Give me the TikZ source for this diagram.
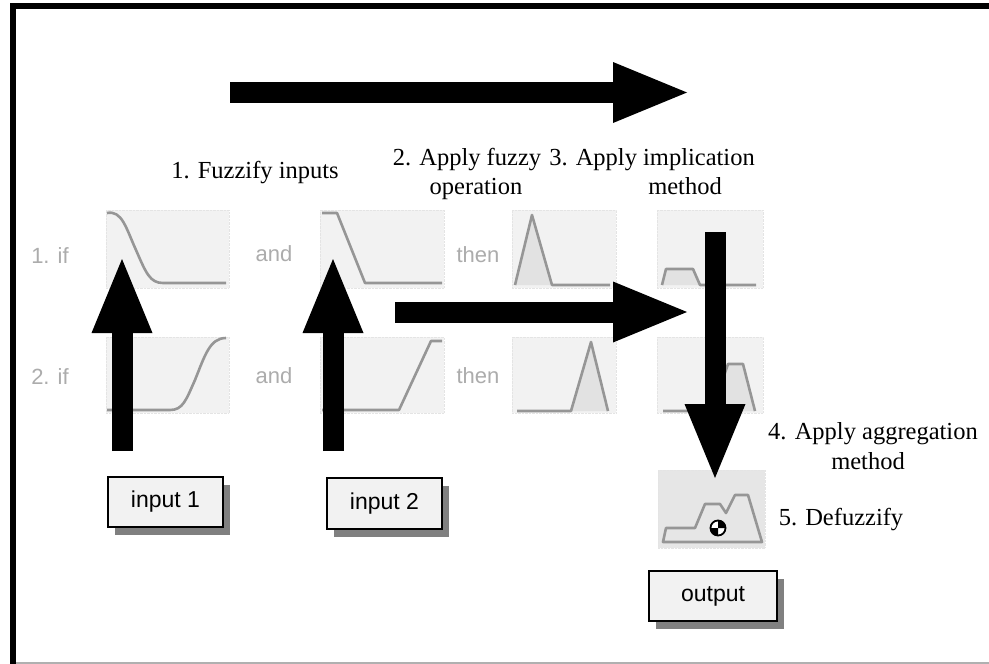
\documentclass[tikz,border=0pt]{standalone}
\usepackage{fontspec}
\setmainfont{Liberation Serif}
\newfontfamily\labelsans{Liberation Sans}
\usetikzlibrary{arrows.meta,shadows}
\definecolor{plotbg}{RGB}{242,242,242}
\definecolor{plotedge}{RGB}{228,228,228}
\definecolor{aggbg}{RGB}{230,230,230}
\definecolor{curve}{RGB}{150,150,150}
\definecolor{curvefill}{RGB}{226,226,226}
\definecolor{faint}{RGB}{172,172,172}
\definecolor{boxfill}{RGB}{242,242,242}
\definecolor{shadowgray}{RGB}{128,128,128}
\definecolor{framegray}{RGB}{176,176,176}

\begin{document}
\begin{tikzpicture}[x=1pt,y=-1pt,
  plotbox/.style={draw=plotedge, densely dotted, fill=plotbg, inner sep=0pt},
  mf/.style={draw=curve, line width=2.6pt, line join=round},
  ruleword/.style={font=\labelsans\fontsize{22}{24}\selectfont, text=faint, inner sep=0pt},
  steptext/.style={font=\fontsize{24.5}{27}\selectfont, inner sep=0pt, anchor=base},
  iobox/.style={draw=black, line width=1.5pt, fill=boxfill, inner sep=0pt,
    font=\labelsans\fontsize{23}{26}\selectfont,
    drop shadow={shadow xshift=7pt, shadow yshift=-8pt, fill=shadowgray, opacity=1}},
  flow/.style={line width=21pt, -{Triangle[length=74pt,width=61pt,line width=0pt]}},
]
\useasboundingbox (0,0) rectangle (989,664);
\fill[white] (0,0) rectangle (989,664);

% frame
\draw[line width=6pt] (13,664) -- (13,6) -- (989,6);
\draw[framegray, line width=1.5pt] (16,663) -- (989,663);

% rule labels
\node[ruleword] (if1) at (50,256) {1. if};
\node[ruleword] (if2) at (50,377) {2. if};
\node[ruleword] (and1) at (274,254) {and};
\node[ruleword] (and2) at (274,376) {and};
\node[ruleword] (then1) at (478,255) {then};
\node[ruleword] (then2) at (478,376) {then};

% membership function panels
\node[plotbox, minimum width=123pt, minimum height=78pt] (p11) at (167.5,249) {};
\node[plotbox, minimum width=123pt, minimum height=76pt] (p21) at (167.5,375) {};
\node[plotbox, minimum width=124pt, minimum height=78pt] (p12) at (382,249) {};
\node[plotbox, minimum width=124pt, minimum height=76pt] (p22) at (382,375) {};
\node[plotbox, minimum width=104pt, minimum height=78pt] (p13) at (564,249) {};
\node[plotbox, minimum width=104pt, minimum height=76pt] (p23) at (564,375) {};
\node[plotbox, minimum width=106pt, minimum height=78pt] (p14) at (710,249) {};
\node[plotbox, minimum width=106pt, minimum height=76pt] (p24) at (710,375) {};
\node[plotbox, fill=aggbg, minimum width=107pt, minimum height=78pt] (agg) at (711.5,509) {};

% input 1 membership functions
\draw[mf] (107,213) .. controls (122,210) and (126,228) .. (136,250)
  .. controls (146,273) and (150,283) .. (163,283) -- (226,283);
\draw[mf] (107,410) -- (170,410) .. controls (183,410) and (186,400) .. (195,380)
  .. controls (205,355) and (210,338) .. (226,338);
% input 2 membership functions
\draw[mf] (322,213) -- (337,213) -- (365,283) -- (442,283);
\draw[mf] (322,410) -- (399,410) -- (431,341) -- (442,341);
% consequents
\fill[curvefill] (515,285) -- (532,215) -- (552,285) -- cycle;
\draw[mf] (515,285) -- (532,215) -- (552,285) -- (610,285);
\fill[curvefill] (571,411) -- (591,342) -- (608,411) -- cycle;
\draw[mf] (517,411) -- (571,411) -- (591,342) -- (608,411);
% implication results
\fill[curvefill] (662,285) -- (666,269) -- (693,269) -- (700,285) -- cycle;
\draw[mf] (662,285) -- (666,269) -- (693,269) -- (700,285) -- (756,285);
\fill[curvefill] (712,411) -- (728,364) -- (743,364) -- (755,411) -- cycle;
\draw[mf] (663,411) -- (712,411) -- (728,364) -- (743,364) -- (755,411);
% aggregated output set
\draw[mf] (663,542) -- (666,528) -- (695,528) -- (705,504) -- (720,504)
  -- (726,513) -- (735,495) -- (748,495) -- (762,542) -- cycle;

% centroid marker
\coordinate (cg) at (718,528);
\def\cgr{7.5}
\fill[white] (cg) circle (\cgr);
\fill[black] (cg) -- ++(-\cgr,0) arc[start angle=180, end angle=90, radius=\cgr] -- cycle;
\fill[black] (cg) -- ++(\cgr,0) arc[start angle=0, end angle=-90, radius=\cgr] -- cycle;
\draw[black, line width=1.8pt] (cg) circle (\cgr);

% input/output boxes
\node[iobox, minimum width=115pt, minimum height=50pt] (in1) at (165.5,502) {input 1};
\node[iobox, minimum width=115pt, minimum height=51pt] (in2) at (384.5,503.5) {input 2};
\node[iobox, minimum width=128pt, minimum height=50pt] (out) at (713,596) {output};

% step labels
\node[steptext] (s1) at (255,178) {1. Fuzzify inputs};
\node[steptext] (s2a) at (467,165) {2. Apply fuzzy};
\node[steptext] (s2b) at (476,194) {operation};
\node[steptext] (s3a) at (652,165) {3. Apply implication};
\node[steptext] (s3b) at (685,194) {method};
\node[steptext] (s4a) at (873,439) {4. Apply aggregation};
\node[steptext] (s4b) at (868,469) {method};
\node[steptext] (s5) at (841,525) {5. Defuzzify};

% flow arrows
\coordinate (topS) at (230,92.5);
\coordinate (topE) at (687,92.5);
\coordinate (up1S) at (122,451);
\coordinate (up1E) at (122,259);
\coordinate (up2S) at (333,451);
\coordinate (up2E) at (333,259);
\coordinate (midS) at (395,312);
\coordinate (midE) at (687,312);
\coordinate (dnS) at (715,232);
\coordinate (dnE) at (715,478);
\draw[flow] (topS) -- (topE);
\draw[flow] (up1S) -- (up1E);
\draw[flow] (up2S) -- (up2E);
\draw[flow] (midS) -- (midE);
\draw[flow] (dnS) -- (dnE);
\end{tikzpicture}
\end{document}
